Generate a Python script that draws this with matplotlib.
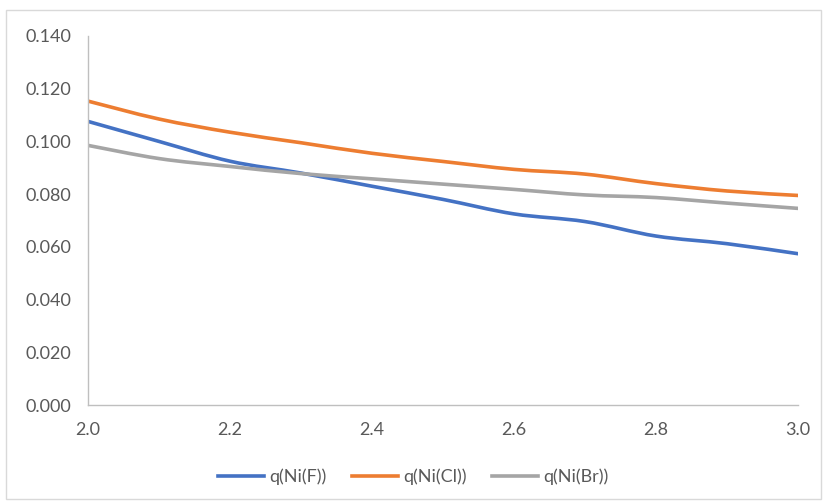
import numpy as np
import matplotlib.pyplot as plt
from matplotlib.path import Path
from matplotlib.patches import PathPatch, Rectangle
from matplotlib.lines import Line2D

x = [2.0, 2.1, 2.2, 2.3, 2.4, 2.5, 2.6, 2.7, 2.8, 2.9, 3.0]
q_ni_f = [0.1076, 0.1000, 0.0925, 0.0880, 0.0830, 0.0780, 0.0725, 0.0696, 0.0641, 0.0612, 0.0574]
q_ni_cl = [0.1153, 0.1085, 0.1035, 0.0995, 0.0955, 0.0924, 0.0894, 0.0876, 0.0840, 0.0812, 0.0795]
q_ni_br = [0.0985, 0.0935, 0.0905, 0.0878, 0.0858, 0.0838, 0.0818, 0.0797, 0.0787, 0.0766, 0.0746]

labels = ["q(Ni(F))", "q(Ni(Cl))", "q(Ni(Br))"]
colors = ["#4472C4", "#ED7D31", "#A5A5A5"]
yticks = [0.0, 0.02, 0.04, 0.06, 0.08, 0.10, 0.12, 0.14]
xticks = [2.0, 2.2, 2.4, 2.6, 2.8, 3.0]

plt.rcParams["font.family"] = ["Lato", "DejaVu Sans"]


def smooth_path(xs, ys, tension=1 / 6):
    # cubic Bezier through every point (Catmull-Rom style), like spreadsheet "smoothed line"
    xs = np.asarray(xs, float)
    ys = np.asarray(ys, float)
    pts = np.column_stack([xs, ys])
    verts = [pts[0]]
    codes = [Path.MOVETO]
    n = len(pts)
    for i in range(n - 1):
        p0 = pts[i - 1] if i > 0 else pts[i]
        p1 = pts[i]
        p2 = pts[i + 1]
        p3 = pts[i + 2] if i + 2 < n else pts[i + 1]
        c1 = p1 + (p2 - p0) * tension
        c2 = p2 - (p3 - p1) * tension
        verts += [c1, c2, p2]
        codes += [Path.CURVE4] * 3
    return Path(verts, codes)


fig = plt.figure(figsize=(8.27, 5.04), dpi=100)
ax = fig.add_axes([88 / 827, 1 - 405 / 504, (798 - 88) / 827, (405 - 36) / 504])

handles = []
for ys, lab, col in zip([q_ni_f, q_ni_cl, q_ni_br], labels, colors):
    ax.add_patch(PathPatch(smooth_path(x, ys), facecolor="none", edgecolor=col,
                           lw=2.6, capstyle="round", joinstyle="round"))
    handles.append(Line2D([], [], color=col, lw=2.6, label=lab))

ax.set_xlim(2.0, 3.0)
ax.set_ylim(0, 0.14)
ax.set_xticks(xticks)
ax.set_xticklabels([f"{v:.1f}" for v in xticks])
ax.set_yticks(yticks)
ax.set_yticklabels([f"{v:.3f}" for v in yticks])
ax.tick_params(length=0, labelsize=13, colors="#595959", pad=12)
ax.tick_params(axis="x", pad=12)
for s in ["top", "right"]:
    ax.spines[s].set_visible(False)
for s in ["left", "bottom"]:
    ax.spines[s].set_color("#BFBFBF")
    ax.spines[s].set_linewidth(1.0)

fig.legend(handles=handles, loc="center", bbox_to_anchor=(0.5, 1 - 477 / 504),
           ncol=3, frameon=False, fontsize=13, labelcolor="#595959",
           handlelength=2.55, columnspacing=1.4, handletextpad=0.3)

# outer chart frame
fig.add_artist(Rectangle((6 / 827, 1 - 499 / 504), 815 / 827, 489 / 504,
                         transform=fig.transFigure, fill=False,
                         edgecolor="#D9D9D9", lw=1.0))

fig.savefig("out.png", dpi=100)
